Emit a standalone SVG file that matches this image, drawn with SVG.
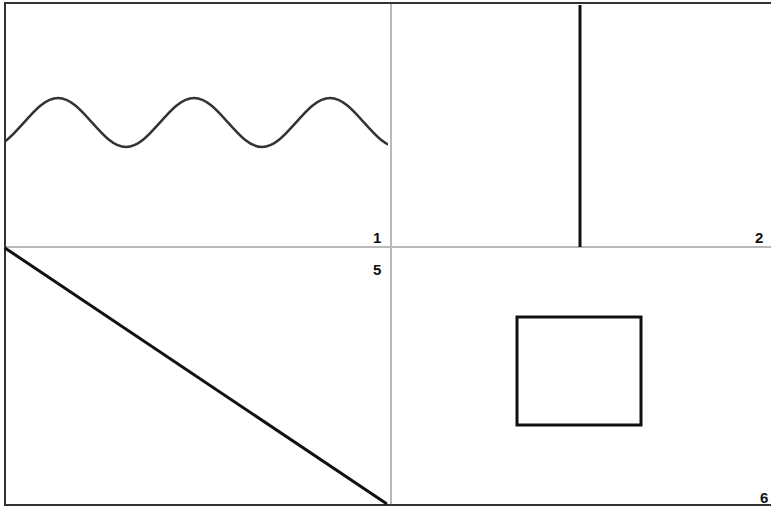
<svg xmlns="http://www.w3.org/2000/svg" width="771" height="507" viewBox="0 0 771 507">
<defs>
<style>
.div{stroke:#b8b8b8;stroke-width:2;fill:none}
.ink{stroke:#111;stroke-width:3;fill:none}
.wave{stroke:#333;stroke-width:2.5;fill:none}
.lbl{font-family:"Liberation Sans",Arial,sans-serif;font-weight:bold;font-size:15px;fill:#111}
</style>
<clipPath id="p1"><rect x="5" y="4" width="383" height="242"/></clipPath>
</defs>
<rect x="0" y="0" width="771" height="507" fill="#fff"/>
<g id="frame">
<rect x="5" y="3" width="790" height="502" fill="none" stroke="#333" stroke-width="2"/>
<line class="div" x1="391" y1="4" x2="391" y2="504"/>
<line class="div" x1="6" y1="247" x2="771" y2="247"/>
</g>
<g id="panel1">
<path class="wave" clip-path="url(#p1)" d="M -10 147 C 2.3 147 12.9 135 24 122.5 C 35.1 110 45.7 98 58 98 C 70.3 98 80.9 110 92 122.5 C 103.1 135 113.7 147 126 147 C 138.3 147 148.9 135 160 122.5 C 171.1 110 181.7 98 194 98 C 206.3 98 216.9 110 228 122.5 C 239.1 135 249.7 147 262 147 C 274.3 147 284.9 135 296 122.5 C 307.1 110 317.7 98 330 98 C 342.3 98 352.9 110 364 122.5 C 375.1 135 385.7 147 398 147"/>
<text class="lbl" x="373" y="243">1</text>
</g>
<g id="panel2">
<line class="ink" x1="580" y1="5" x2="580" y2="247"/>
<text class="lbl" x="755" y="243">2</text>
</g>
<g id="panel5">
<line class="ink" x1="5" y1="248" x2="387" y2="504"/>
<text class="lbl" x="373" y="275">5</text>
</g>
<g id="panel6">
<rect class="ink" x="517" y="317" width="124" height="108"/>
<text class="lbl" x="760" y="503">6</text>
</g>
</svg>
